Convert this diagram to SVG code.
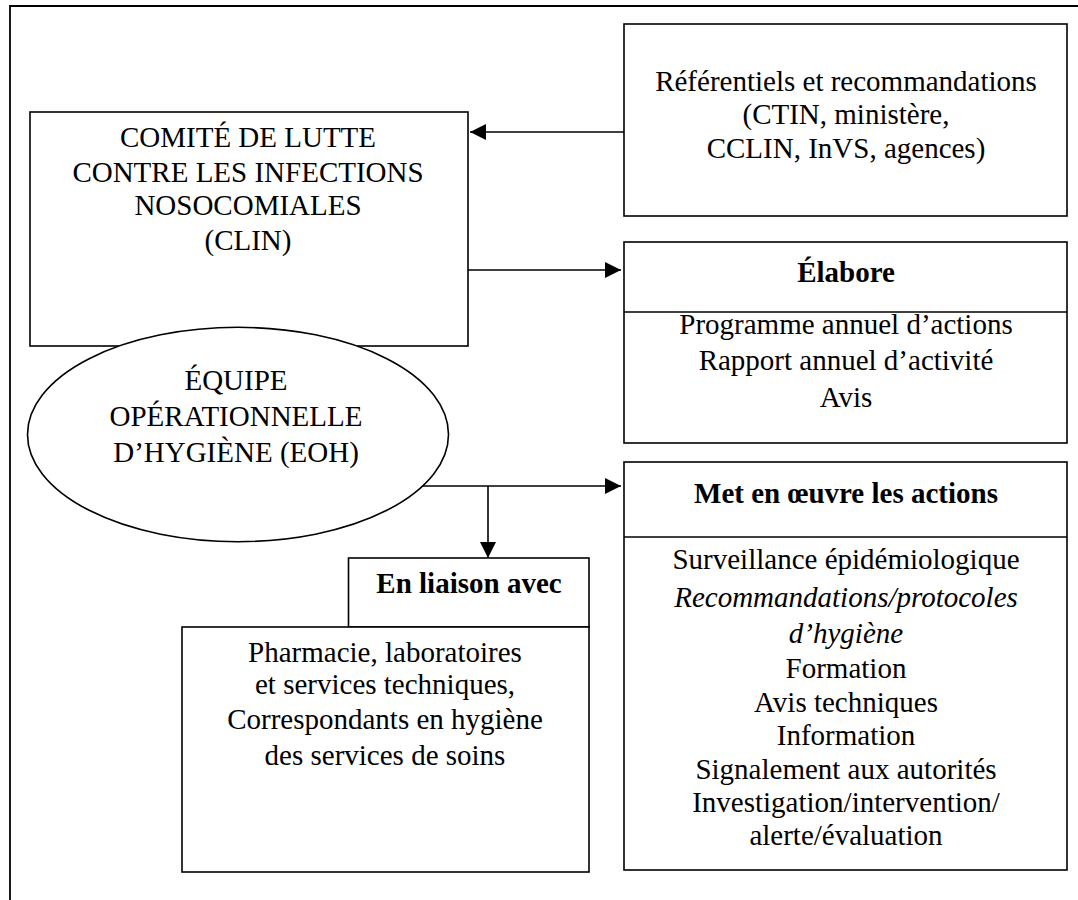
<svg xmlns="http://www.w3.org/2000/svg" width="1078" height="900" viewBox="0 0 1078 900">
  <style>
    .box { fill: #ffffff; stroke: #000000; stroke-width: 1.6; }
    .frame { fill: none; stroke: #000000; stroke-width: 1.8; }
    .div { stroke: #000000; stroke-width: 1.6; }
    .conn { fill: none; stroke: #000000; stroke-width: 1.6; }
    text { font-family: "Liberation Serif", "Times New Roman", serif; font-size: 29px; fill: #000000; text-anchor: middle; }
    .b { font-weight: bold; }
    .i { font-style: italic; }
  </style>
  <defs>
    <marker id="arrow" viewBox="0 0 16 16" refX="16" refY="8" markerWidth="16" markerHeight="16" markerUnits="userSpaceOnUse" orient="auto">
      <path d="M0,0 L16,8 L0,16 z" fill="#000000"/>
    </marker>
  </defs>
  <rect x="0" y="0" width="1078" height="900" fill="#ffffff"/>
  <path class="frame" d="M10,900 V6 H1078"/>

  <g id="connectors">
    <line class="conn" x1="624" y1="132" x2="470" y2="132" marker-end="url(#arrow)"/>
    <line class="conn" x1="468" y1="270" x2="621" y2="270" marker-end="url(#arrow)"/>
    <line class="conn" x1="420" y1="486" x2="621" y2="486" marker-end="url(#arrow)"/>
    <line class="conn" x1="488" y1="486" x2="488" y2="558" marker-end="url(#arrow)"/>
  </g>

  <g id="clin">
    <rect class="box" x="30" y="112" width="438" height="234"/>
    <text x="248" y="147">COMITÉ DE LUTTE</text>
    <text x="248" y="182">CONTRE LES INFECTIONS</text>
    <text x="248" y="215">NOSOCOMIALES</text>
    <text x="248" y="250">(CLIN)</text>
  </g>

  <g id="eoh">
    <ellipse class="box" cx="238" cy="434.5" rx="210.5" ry="107.2"/>
    <text x="236" y="390">ÉQUIPE</text>
    <text x="236" y="426">OPÉRATIONNELLE</text>
    <text x="236" y="461.5">D’HYGIÈNE (EOH)</text>
  </g>

  <g id="referentiels">
    <rect class="box" x="624" y="24" width="443" height="192"/>
    <text x="846" y="91">Référentiels et recommandations</text>
    <text x="846" y="124">(CTIN, ministère,</text>
    <text x="846" y="158">CCLIN, InVS, agences)</text>
  </g>

  <g id="elabore">
    <rect class="box" x="624" y="242" width="443" height="201"/>
    <line class="div" x1="624" y1="312" x2="1067" y2="312"/>
    <text class="b" x="846" y="282">Élabore</text>
    <text x="846" y="334">Programme annuel d’actions</text>
    <text x="846" y="370">Rapport annuel d’activité</text>
    <text x="846" y="407">Avis</text>
  </g>

  <g id="met-en-oeuvre">
    <rect class="box" x="624" y="462" width="443" height="408"/>
    <line class="div" x1="624" y1="537" x2="1067" y2="537"/>
    <text class="b" x="846" y="503">Met en œuvre les actions</text>
    <text x="846" y="568.5">Surveillance épidémiologique</text>
    <text class="i" x="846" y="606.5">Recommandations/protocoles</text>
    <text class="i" x="846" y="642.5">d’hygiène</text>
    <text x="846" y="677.5">Formation</text>
    <text x="846" y="711.5">Avis techniques</text>
    <text x="846" y="745">Information</text>
    <text x="846" y="778.5">Signalement aux autorités</text>
    <text x="846" y="811.5">Investigation/intervention/</text>
    <text x="846" y="845">alerte/évaluation</text>
  </g>

  <g id="en-liaison">
    <rect class="box" x="348.5" y="558" width="240.5" height="69"/>
    <rect class="box" x="182" y="627" width="407" height="245"/>
    <text class="b" x="469" y="593">En liaison avec</text>
    <text x="385" y="662">Pharmacie, laboratoires</text>
    <text x="385" y="693.5">et services techniques,</text>
    <text x="385" y="728.5">Correspondants en hygiène</text>
    <text x="385" y="765">des services de soins</text>
  </g>
</svg>
